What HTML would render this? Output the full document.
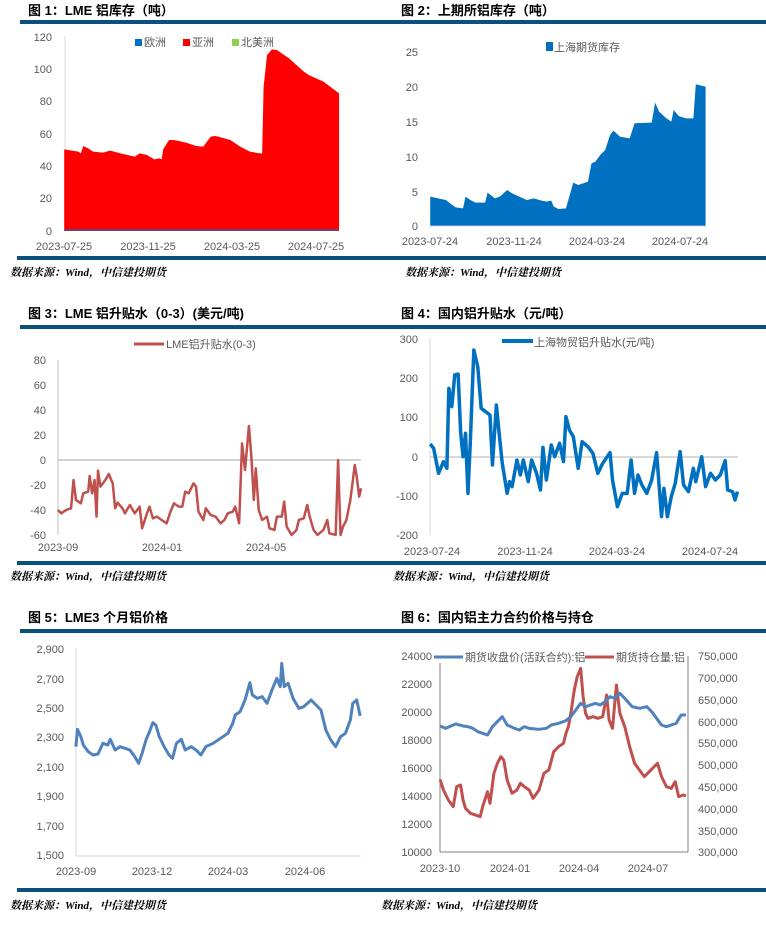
<!DOCTYPE html>
<html><head><meta charset="utf-8"><style>
body{margin:0;background:#fff;}
svg{display:block;font-family:"Liberation Sans","Noto Sans CJK SC",sans-serif;}
.t{font-weight:bold;font-size:13px;fill:#000}
.s{font-weight:bold;font-style:italic;font-size:11px;fill:#000;font-family:"Liberation Serif","Noto Serif CJK SC",serif}
.k{font-size:11px;fill:#595959}
.ln{fill:none;stroke-linejoin:round;vector-effect:non-scaling-stroke}
</style></head><body>
<svg width="766" height="928" viewBox="0 0 766 928">
<!-- rules -->
<g fill="#0b4f7c">
<rect x="20" y="20" width="747" height="4"/><rect x="17" y="256" width="750" height="4"/>
<rect x="20" y="325" width="747" height="4"/><rect x="17" y="561" width="750" height="4"/>
<rect x="20" y="629" width="747" height="4"/><rect x="17" y="888" width="750" height="4"/>
</g>
<text class="t" x="28" y="15">图 1：LME 铝库存（吨）</text>
<text class="t" x="401" y="15">图 2：上期所铝库存（吨）</text>
<text class="t" x="28" y="318">图 3：LME 铝升贴水（0-3）(美元/吨)</text>
<text class="t" x="401" y="318">图 4：国内铝升贴水（元/吨）</text>
<text class="t" x="28" y="622">图 5：LME3 个月铝价格</text>
<text class="t" x="401" y="622">图 6：国内铝主力合约价格与持仓</text>
<text class="s" x="10" y="276">数据来源：Wind，中信建投期货</text>
<text class="s" x="405" y="276">数据来源：Wind，中信建投期货</text>
<text class="s" x="10" y="580">数据来源：Wind，中信建投期货</text>
<text class="s" x="393" y="580">数据来源：Wind，中信建投期货</text>
<text class="s" x="10" y="909">数据来源：Wind，中信建投期货</text>
<text class="s" x="381" y="909">数据来源：Wind，中信建投期货</text>

<!-- Chart 1 -->
<g class="k" text-anchor="end">
<text x="52" y="41">120</text><text x="52" y="73">100</text><text x="52" y="105">80</text><text x="52" y="138">60</text><text x="52" y="170">40</text><text x="52" y="202">20</text><text x="52" y="235">0</text>
</g>
<g class="k" text-anchor="middle"><text x="64" y="250">2023-07-25</text><text x="148" y="250">2023-11-25</text><text x="232" y="250">2024-03-25</text><text x="316" y="250">2024-07-25</text></g>
<line x1="65" y1="36" x2="65" y2="231" stroke="#d9d9d9"/>
<g transform="scale(0.49,0.3333)">
<path fill="#ff0000" d="M131,693 L131,448 160,455 165,460 170,438 180,445 190,455 210,458 225,452 240,458 275,470 285,460 300,465 315,478 325,475 330,478 333,448 345,420 355,420 380,428 400,438 415,440 430,410 440,408 470,420 490,440 510,455 530,460 535,460 538,260 545,165 555,148 565,150 590,175 620,215 630,225 660,245 692,280 692,693Z"/>
</g>
<rect x="65" y="229" width="273" height="2" fill="#0070c0" opacity="0.6"/>
<rect x="135" y="39" width="7" height="7" fill="#0070c0"/><text class="k" x="144" y="46">欧洲</text>
<rect x="183" y="39" width="7" height="7" fill="#ff0000"/><text class="k" x="192" y="46">亚洲</text>
<rect x="232" y="39" width="7" height="7" fill="#92d050"/><text class="k" x="241" y="46">北美洲</text>

<!-- Chart 2 -->
<g class="k" text-anchor="end">
<text x="418" y="56">25</text><text x="418" y="91">20</text><text x="418" y="126">15</text><text x="418" y="161">10</text><text x="418" y="196">5</text><text x="418" y="230">0</text>
</g>
<g class="k" text-anchor="middle"><text x="430" y="245">2023-07-24</text><text x="514" y="245">2023-11-24</text><text x="597" y="245">2024-03-24</text><text x="680" y="245">2024-07-24</text></g>
<line x1="430" y1="226" x2="706" y2="226" stroke="#d9d9d9"/>
<g transform="scale(0.49,0.3333)">
<path fill="#0070c0" d="M878,677 L878,590 900,597 910,600 920,612 930,622 945,625 950,590 960,600 970,608 990,608 995,578 1010,595 1020,590 1035,570 1045,580 1060,590 1075,600 1090,595 1100,600 1115,605 1125,602 1130,620 1140,627 1155,625 1170,548 1180,555 1190,550 1200,545 1207,490 1215,485 1225,465 1235,450 1245,405 1252,392 1265,410 1285,415 1295,370 1330,368 1337,308 1345,335 1360,355 1370,365 1375,330 1385,348 1400,355 1415,355 1420,253 1440,260 1440,677Z"/>
</g>
<rect x="546" y="42" width="7" height="9" fill="#0070c0"/><text class="k" x="554" y="51" font-size="12">上海期货库存</text>

<!-- Chart 3 -->
<g class="k" text-anchor="end" font-size="10">
<text x="46" y="364">80</text><text x="46" y="389">60</text><text x="46" y="414">40</text><text x="46" y="439">20</text><text x="46" y="464">0</text><text x="46" y="489">-20</text><text x="46" y="514">-40</text><text x="46" y="539">-60</text>
</g>
<g class="k" text-anchor="middle" font-size="10"><text x="58" y="551">2023-09</text><text x="162" y="551">2024-01</text><text x="266" y="551">2024-05</text></g>
<line x1="58" y1="360" x2="58" y2="535" stroke="#bfbfbf"/>
<line x1="58" y1="460" x2="361" y2="460" stroke="#a6a6a6"/>
<g transform="translate(0,300) scale(0.49,0.3333)">
<path class="ln" stroke="#c0504d" stroke-width="2.5" d="M118,630 125,640 135,630 145,625 150,540 155,600 165,610 170,580 180,575 183,528 188,580 193,540 197,650 200,512 205,560 215,540 222,522 230,550 235,625 240,608 250,625 255,640 265,615 275,640 285,620 290,685 300,640 305,620 312,655 320,650 330,660 340,670 348,635 355,610 365,620 372,620 378,575 385,580 395,550 400,560 405,635 415,660 420,625 430,645 440,650 450,670 458,660 465,640 475,635 480,620 488,670 494,430 500,510 508,378 513,470 518,600 522,505 528,630 535,660 545,650 550,685 560,690 565,650 575,650 580,605 585,680 595,705 605,690 610,660 620,655 627,615 632,650 640,690 648,705 660,690 668,660 672,700 685,705 690,480 695,705 700,680 707,660 715,600 724,495 728,530 733,590 737,565"/>
</g>
<line x1="134" y1="344" x2="164" y2="344" stroke="#c0504d" stroke-width="3"/><text class="k" x="166" y="348" font-size="10">LME铝升贴水(0-3)</text>

<!-- Chart 4 -->
<g class="k" text-anchor="end">
<text x="418" y="343">300</text><text x="418" y="382">200</text><text x="418" y="421">100</text><text x="418" y="461">0</text><text x="418" y="500">-100</text><text x="418" y="539">-200</text>
</g>
<g class="k" text-anchor="middle"><text x="432" y="555">2023-07-24</text><text x="525" y="555">2023-11-24</text><text x="617" y="555">2024-03-24</text><text x="710" y="555">2024-07-24</text></g>
<line x1="430" y1="338" x2="430" y2="535" stroke="#d9d9d9"/>
<line x1="430" y1="457" x2="738" y2="457" stroke="#d9d9d9" stroke-width="2"/>
<g transform="translate(0,300) scale(0.49,0.3333)">
<path class="ln" stroke="#0070c0" stroke-width="3.5" d="M878,432 885,445 895,520 905,485 912,505 916,265 922,320 928,225 935,222 940,395 945,470 950,400 955,580 960,420 967,150 975,200 982,325 1000,345 1005,495 1013,315 1018,390 1025,490 1035,580 1040,545 1045,560 1055,480 1062,525 1068,480 1078,545 1085,480 1095,520 1103,570 1108,442 1115,540 1125,435 1132,470 1142,430 1150,485 1155,350 1162,390 1170,410 1180,505 1188,425 1200,440 1210,460 1220,520 1230,490 1245,458 1250,540 1260,620 1270,580 1280,580 1288,480 1295,580 1302,525 1310,555 1320,580 1330,540 1340,458 1350,650 1355,565 1362,650 1370,590 1378,550 1388,455 1395,555 1405,575 1415,505 1420,545 1432,470 1440,560 1450,520 1460,540 1470,525 1480,482 1485,570 1495,575 1500,600 1505,575"/>
</g>
<line x1="502" y1="341" x2="533" y2="341" stroke="#0070c0" stroke-width="4"/><text class="k" x="534" y="346" font-size="12">上海物贸铝升贴水(元/吨)</text>

<!-- Chart 5 -->
<g class="k" text-anchor="end">
<text x="64" y="653">2,900</text><text x="64" y="683">2,700</text><text x="64" y="712">2,500</text><text x="64" y="741">2,300</text><text x="64" y="771">2,100</text><text x="64" y="800">1,900</text><text x="64" y="830">1,700</text><text x="64" y="859">1,500</text>
</g>
<g class="k" text-anchor="middle"><text x="76" y="875">2023-09</text><text x="152" y="875">2023-12</text><text x="228" y="875">2024-03</text><text x="305" y="875">2024-06</text></g>
<line x1="76" y1="648" x2="76" y2="856" stroke="#d9d9d9"/>
<line x1="76" y1="856" x2="361" y2="856" stroke="#d9d9d9"/>
<g transform="translate(0,600) scale(0.49,0.3333)">
<path class="ln" stroke="#4f81bd" stroke-width="3" d="M155,440 158,388 165,410 170,435 180,455 190,465 200,462 210,430 220,435 225,418 235,450 245,440 255,445 265,450 275,470 283,490 290,460 298,420 305,395 312,368 318,375 325,410 335,440 345,465 352,475 360,430 370,418 378,450 390,440 400,450 410,465 420,440 435,430 450,415 465,400 475,370 480,345 490,335 500,300 510,248 515,285 525,295 535,290 545,310 555,270 565,235 572,260 575,190 580,260 588,250 598,295 610,325 620,320 635,300 645,315 655,330 665,390 675,420 685,440 695,410 705,400 715,360 720,310 728,300 735,348"/>
</g>

<!-- Chart 6 -->
<g class="k" text-anchor="end" fill="#000">
<text x="432" y="660">24000</text><text x="432" y="688">22000</text><text x="432" y="716">20000</text><text x="432" y="744">18000</text><text x="432" y="772">16000</text><text x="432" y="800">14000</text><text x="432" y="828">12000</text><text x="432" y="856">10000</text>
</g>
<g class="k" fill="#000">
<text x="698" y="660">750,000</text><text x="698" y="682">700,000</text><text x="698" y="704">650,000</text><text x="698" y="726">600,000</text><text x="698" y="747">550,000</text><text x="698" y="769">500,000</text><text x="698" y="791">450,000</text><text x="698" y="813">400,000</text><text x="698" y="835">350,000</text><text x="698" y="856">300,000</text>
</g>
<g class="k" text-anchor="middle" fill="#000"><text x="440" y="872">2023-10</text><text x="510" y="872">2024-01</text><text x="579" y="872">2024-04</text><text x="648" y="872">2024-07</text></g>
<line x1="440" y1="656" x2="440" y2="852" stroke="#808080"/>
<line x1="440" y1="852" x2="688" y2="852" stroke="#808080"/>
<line x1="688" y1="656" x2="688" y2="852" stroke="#808080"/>
<g transform="translate(0,600) scale(0.49,0.3333)">
<path class="ln" stroke="#c0504d" stroke-width="3" d="M898,538 905,570 915,600 925,620 932,560 940,555 945,600 950,625 960,640 970,645 980,650 985,620 995,575 1000,610 1008,520 1015,490 1022,470 1028,480 1035,540 1045,580 1055,570 1062,550 1070,560 1080,570 1088,595 1100,570 1110,520 1120,510 1130,455 1140,440 1150,430 1155,400 1160,380 1165,340 1172,270 1178,230 1185,205 1190,290 1195,340 1200,355 1210,350 1220,355 1230,350 1238,285 1243,360 1250,385 1258,255 1265,340 1275,380 1285,440 1295,490 1305,510 1315,530 1325,515 1335,500 1342,490 1350,530 1360,560 1370,565 1378,545 1385,590 1395,585 1400,588"/>
<path class="ln" stroke="#4f81bd" stroke-width="3" d="M898,378 910,385 920,378 930,372 945,378 955,380 965,385 975,395 985,400 995,405 1005,380 1015,365 1025,350 1035,375 1050,385 1060,390 1070,380 1080,385 1100,388 1115,385 1125,375 1140,370 1155,362 1165,350 1175,330 1185,310 1195,320 1205,315 1215,310 1225,315 1235,305 1245,290 1255,295 1265,280 1275,295 1290,320 1305,325 1320,320 1330,335 1340,355 1350,375 1360,380 1370,375 1380,370 1390,345 1400,345"/>
</g>
<rect x="434" y="651" width="246" height="12" fill="#fff"/>
<line x1="434" y1="657" x2="463" y2="657" stroke="#4f81bd" stroke-width="3"/><text class="k" x="465" y="661" font-size="11">期货收盘价(活跃合约):铝</text>
<line x1="585" y1="657" x2="614" y2="657" stroke="#c0504d" stroke-width="3"/><text class="k" x="616" y="661" font-size="11">期货持仓量:铝</text>
</svg>
</body></html>
